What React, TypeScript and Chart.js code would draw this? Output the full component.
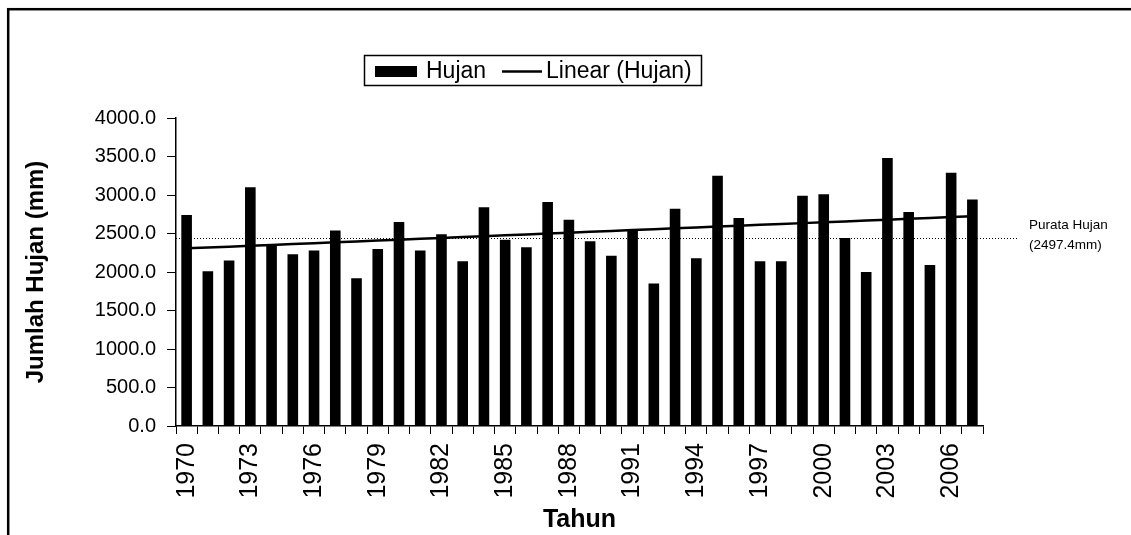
import React, { useEffect, useRef } from "react";
import { Chart, registerables } from "chart.js";

Chart.register(...registerables);

const years: string[] = [
  "1970", "1971", "1972", "1973", "1974", "1975", "1976", "1977", "1978", "1979",
  "1980", "1981", "1982", "1983", "1984", "1985", "1986", "1987", "1988", "1989",
  "1990", "1991", "1992", "1993", "1994", "1995", "1996", "1997", "1998", "1999",
  "2000", "2001", "2002", "2003", "2004", "2005", "2006", "2007",
];

const rainfall: number[] = [
  2740, 2010, 2150, 3100, 2360, 2230, 2280, 2540, 1920, 2300,
  2650, 2280, 2490, 2140, 2840, 2420, 2320, 2910, 2680, 2400,
  2210, 2540, 1850, 2820, 2180, 3250, 2700, 2140, 2140, 2990,
  3010, 2440, 2000, 3480, 2780, 2090, 3290, 2940,
];

const yMin = 0;
const yMax = 4000;
const yStep = 500;
const labelEvery = 3;

const averageLineValue = 2440;
const averageLabel: string[] = ["Purata Hujan", "(2497.4mm)"];

const legendItems: string[] = ["Hujan", "Linear (Hujan)"];
const xTitle = "Tahun";
const yTitle = "Jumlah Hujan (mm)";

const FONT = "'Liberation Sans', Arial, sans-serif";

function linearTrend(values: number[]): number[] {
  const n = values.length;
  let sx = 0, sy = 0, sxx = 0, sxy = 0;
  values.forEach((v, i) => {
    sx += i; sy += v; sxx += i * i; sxy += i * v;
  });
  const slope = (n * sxy - sx * sy) / (n * sxx - sx * sx);
  const intercept = (sy - slope * sx) / n;
  return values.map((_, i) => intercept + slope * i);
}

const decorPlugin = {
  id: "decor",
  beforeDraw(chart: any) {
    const ctx = chart.ctx;
    ctx.save();
    ctx.fillStyle = "#fff";
    ctx.fillRect(0, 0, chart.width, chart.height);
    ctx.strokeStyle = "#000";
    ctx.lineWidth = 2.5;
    ctx.strokeRect(8.2, 9.2, 3000, 3000);
    ctx.restore();
  },
  afterDraw(chart: any) {
    const ctx = chart.ctx;
    const y = chart.scales.y;
    const area = chart.chartArea;
    ctx.save();
    // average dotted line
    const py = Math.round(y.getPixelForValue(averageLineValue)) + 0.5;
    ctx.strokeStyle = "#000";
    ctx.lineWidth = 1;
    ctx.setLineDash([1, 2]);
    ctx.beginPath();
    ctx.moveTo(area.left, py);
    ctx.lineTo(area.right + 36, py);
    ctx.stroke();
    ctx.setLineDash([]);
    ctx.fillStyle = "#000";
    ctx.font = `13.5px ${FONT}`;
    ctx.textAlign = "left";
    ctx.textBaseline = "middle";
    ctx.fillText(averageLabel[0], 1029, py - 13);
    ctx.fillText(averageLabel[1], 1029, py + 7);

    // legend
    ctx.lineWidth = 1.5;
    ctx.strokeRect(364.5, 55.5, 337, 30);
    ctx.fillRect(375, 66, 42, 11);
    ctx.font = `23px ${FONT}`;
    ctx.fillText(legendItems[0], 426, 72);
    ctx.lineWidth = 2.5;
    ctx.beginPath();
    ctx.moveTo(502, 71.5);
    ctx.lineTo(542, 71.5);
    ctx.stroke();
    ctx.fillText(legendItems[1], 546, 72);
    ctx.restore();
  },
};

export default function App() {
  const canvasRef = useRef<HTMLCanvasElement | null>(null);

  useEffect(() => {
    if (!canvasRef.current) return;
    const trend = linearTrend(rainfall);
    const chart = new Chart(canvasRef.current, {
      type: "bar",
      data: {
        labels: years,
        datasets: [
          {
            type: "bar",
            label: legendItems[0],
            data: rainfall,
            backgroundColor: "#000",
            borderWidth: 0,
            barPercentage: 0.5,
            categoryPercentage: 1,
            order: 1,
          },
          {
            type: "line",
            label: legendItems[1],
            data: trend,
            borderColor: "#000",
            borderWidth: 2.5,
            pointRadius: 0,
            fill: false,
            order: 2,
          } as any,
        ],
      },
      options: {
        responsive: false,
        animation: false,
        layout: { padding: { left: 0, right: 148, top: 118, bottom: 0 } },
        plugins: {
          legend: { display: false },
          tooltip: { enabled: false },
        },
        scales: {
          x: {
            offset: true,
            grid: {
              offset: true,
              drawOnChartArea: false,
              drawTicks: true,
              tickLength: 8,
              color: "#000",
              lineWidth: 1,
            },
            border: { display: true, color: "#000", width: 1.5 },
            ticks: {
              autoSkip: false,
              maxRotation: 90,
              minRotation: 90,
              color: "#000",
              padding: 9,
              font: { family: FONT, size: 25 },
              callback: (_v: any, i: number) => (i % labelEvery === 0 ? years[i] : ""),
            },
            title: {
              display: true,
              text: xTitle,
              color: "#000",
              font: { family: FONT, size: 25, weight: "bold" },
              padding: { top: 0, bottom: 0 },
            },
            afterFit: (s: any) => {
              s.height = 109;
            },
          },
          y: {
            min: yMin,
            max: yMax,
            grid: {
              drawOnChartArea: false,
              drawTicks: true,
              tickLength: 9,
              color: "#000",
              lineWidth: 1,
            },
            border: { display: true, color: "#000", width: 1.5 },
            ticks: {
              stepSize: yStep,
              color: "#000",
              padding: 11,
              font: { family: FONT, size: 20 },
              callback: (v: any) => Number(v).toFixed(1),
            },
            title: {
              display: true,
              text: yTitle,
              color: "#000",
              font: { family: FONT, size: 24, weight: "bold" },
              padding: { top: 22, bottom: 0 },
            },
            afterFit: (s: any) => {
              s.width = 176;
            },
          },
        },
      },
      plugins: [decorPlugin],
    });
    return () => chart.destroy();
  }, []);

  return (
    <div style={{ position: "fixed", left: 0, top: 0, width: 1131, height: 535, overflow: "hidden", background: "#fff" }}>
      <canvas ref={canvasRef} width={1131} height={535} style={{ display: "block", width: 1131, height: 535 }} />
    </div>
  );
}
